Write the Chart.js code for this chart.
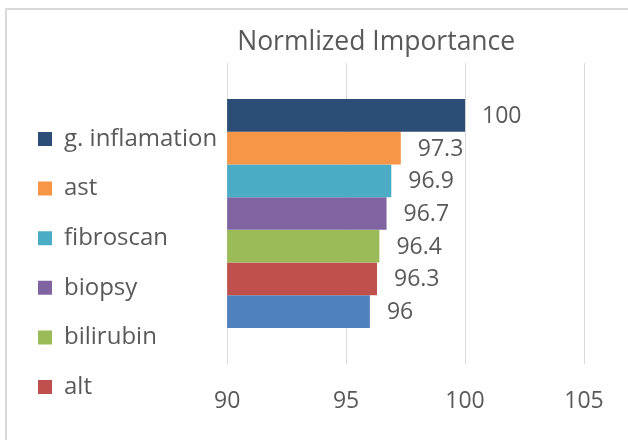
<!DOCTYPE html>
<html>
<head>
<meta charset="utf-8">
<script src="https://cdn.jsdelivr.net/npm/chart.js@4"></script>
<style>
  html, body { margin: 0; padding: 0; background: #fff; overflow: hidden; width: 628px; height: 440px; }
  .frame { position: absolute; left: 5px; top: 8px; width: 800px; height: 600px; border-left: 2px solid #d9d9d9; border-top: 2px solid #d9d9d9; }
  #chartBar { position: absolute; left: 0; top: 0; }
</style>
</head>
<body>
<div class="frame"></div>
<canvas id="chartBar" width="740" height="518"></canvas>
<script>
  // one category, one series per feature (top to bottom)
  const categories = [''];
  const seriesNames = ['g. inflamation', 'ast', 'fibroscan', 'biopsy', 'bilirubin', 'alt', ''];
  const seriesValues = [100, 97.3, 96.9, 96.7, 96.4, 96.3, 96];
  const xTicks = [90, 95, 100, 105];

  const barColors = ['#2c4d75', '#f79646', '#4bacc6', '#8064a2', '#9bbb59', '#c0504d', '#4f81bd'];
  const textGray = '#595959';
  const fontFamily = "'Open Sans', sans-serif";

  // valores ao lado das barras
  const valueLabels = {
    id: 'valueLabels',
    afterDatasetsDraw(chart) {
      const ctx = chart.ctx;
      ctx.save();
      ctx.font = '23px ' + fontFamily;
      ctx.fillStyle = textGray;
      ctx.textAlign = 'left';
      ctx.textBaseline = 'middle';
      chart.data.datasets.forEach((ds, i) => {
        chart.getDatasetMeta(i).data.forEach((bar, j) => {
          ctx.fillText(String(ds.data[j]), bar.x + 17, bar.y + 1);
        });
      });
      ctx.restore();
    }
  };

  const ctxBar = document.getElementById('chartBar');
  new Chart(ctxBar, {
    type: 'bar',
    data: {
      labels: categories,
      datasets: seriesNames.map((name, i) => ({
        label: name,
        data: [seriesValues[i]],
        backgroundColor: barColors[i],
        borderWidth: 0,
        barPercentage: 1,
        categoryPercentage: 0.761
      }))
    },
    options: {
      responsive: false,
      animation: false,
      indexAxis: 'y',
      layout: {
        padding: { left: 12.4, top: 8, right: 0, bottom: 0 }
      },
      plugins: {
        title: {
          display: true,
          text: 'Normlized Importance',
          color: textGray,
          font: { family: fontFamily, size: 26.5, weight: 'normal' },
          padding: { top: 18.1, bottom: 5.1 }
        },
        legend: {
          display: true,
          position: 'left',
          maxWidth: 260,
          labels: {
            color: textGray,
            font: { family: fontFamily, size: 24 },
            boxWidth: 14,
            boxHeight: 14,
            padding: 25.6,
            // the last series has no room in the legend
            filter: (item) => item.text !== ''
          }
        },
        tooltip: { enabled: false }
      },
      scales: {
        x: {
          type: 'linear',
          min: 90,
          max: 105,
          afterBuildTicks: (axis) => { axis.ticks = xTicks.map(v => ({ value: v })); },
          afterFit: (axis) => { axis.height = 154; },
          grid: { color: '#d9d9d9', lineWidth: 1, drawTicks: false },
          border: { display: false },
          ticks: {
            color: textGray,
            padding: 24,
            font: { family: fontFamily, size: 23 }
          }
        },
        y: {
          position: 'right',
          afterFit: (axis) => { axis.width = 156; },
          grid: { display: false },
          border: { display: false },
          ticks: { display: false }
        }
      }
    },
    plugins: [valueLabels]
  });
</script>
</body>
</html>
